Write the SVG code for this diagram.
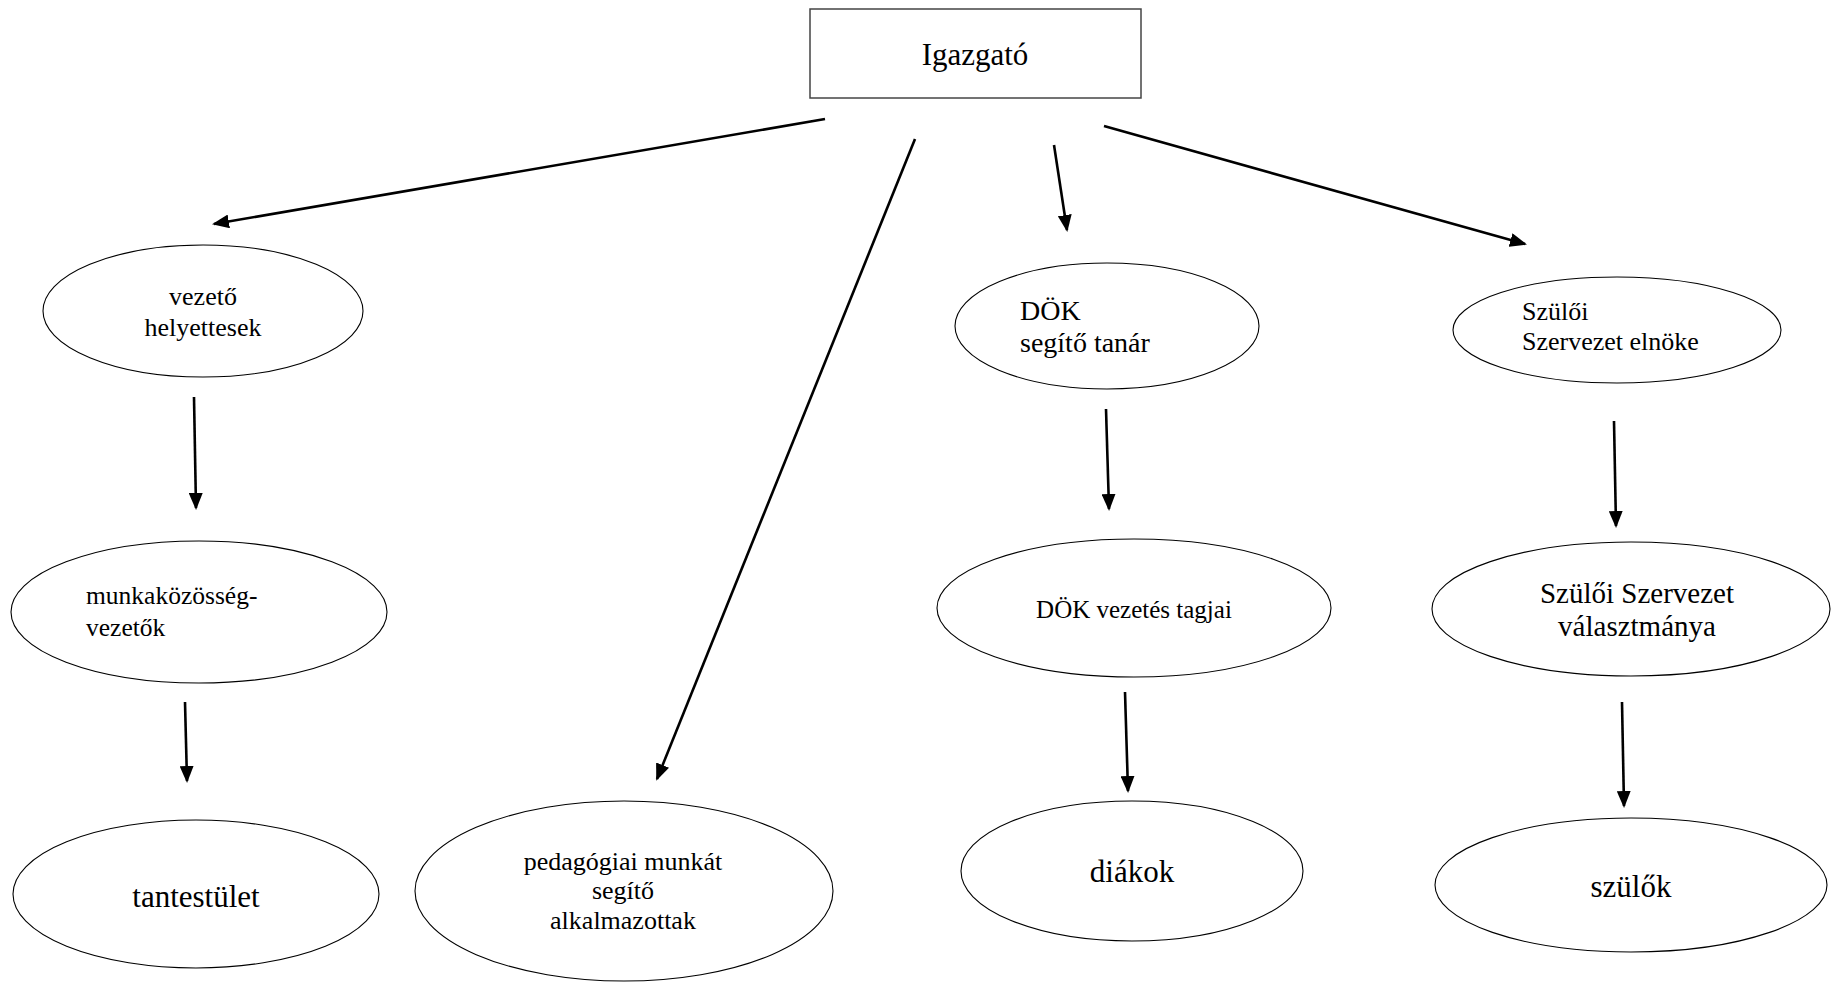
<svg xmlns="http://www.w3.org/2000/svg" width="1832" height="983" viewBox="0 0 1832 983">
<style>
  .bg{fill:#fff}
  .node{fill:#fff;stroke:#000;stroke-width:1.1}
  .box{fill:#fff;stroke:#444;stroke-width:1.5}
  .t{font-family:"Liberation Serif","Times New Roman",serif;fill:#000}
  .c{text-anchor:middle}
  .edge{stroke:#000;stroke-width:2.6;fill:none;marker-end:url(#ah)}
</style>
<defs>
  <marker id="ah" markerUnits="userSpaceOnUse" markerWidth="17" markerHeight="14" refX="15" refY="7" orient="auto">
    <path d="M0,0 L17,7 L0,14 z" fill="#000"/>
  </marker>
</defs>
<rect class="bg" x="0" y="0" width="1832" height="983"/>
<g id="connectors">
  <line class="edge" x1="825" y1="119" x2="214" y2="224"/>
  <line class="edge" x1="915" y1="139" x2="657" y2="779"/>
  <line class="edge" x1="1054" y1="145" x2="1067" y2="230"/>
  <line class="edge" x1="1104" y1="126" x2="1525" y2="244"/>
  <line class="edge" x1="194" y1="397" x2="196" y2="508"/>
  <line class="edge" x1="185" y1="702" x2="187" y2="781"/>
  <line class="edge" x1="1106" y1="409" x2="1109" y2="509"/>
  <line class="edge" x1="1125" y1="692" x2="1128" y2="791"/>
  <line class="edge" x1="1614" y1="421" x2="1616" y2="526"/>
  <line class="edge" x1="1622" y1="702" x2="1624" y2="806"/>
</g>
<g id="igazgato">
  <rect class="box" x="810" y="9" width="331" height="89"/>
  <text class="t c" x="975" y="65" font-size="31">Igazgató</text>
</g>
<g id="vezeto-helyettesek">
  <ellipse class="node" cx="203" cy="311" rx="160" ry="66"/>
  <text class="t c" x="203" y="305" font-size="26">vezető</text>
  <text class="t c" x="203" y="336" font-size="26">helyettesek</text>
</g>
<g id="munkakozosseg-vezetok">
  <ellipse class="node" cx="199" cy="612" rx="188" ry="71"/>
  <text class="t" x="86" y="604" font-size="25.5">munkaközösség-</text>
  <text class="t" x="86" y="636" font-size="25.5">vezetők</text>
</g>
<g id="tantestulet">
  <ellipse class="node" cx="196" cy="894" rx="183" ry="74"/>
  <text class="t c" x="196" y="907" font-size="31">tantestület</text>
</g>
<g id="pedagogiai">
  <ellipse class="node" cx="624" cy="891" rx="209" ry="90"/>
  <text class="t c" x="623" y="870" font-size="26">pedagógiai munkát</text>
  <text class="t c" x="623" y="899" font-size="26">segítő</text>
  <text class="t c" x="623" y="929" font-size="26">alkalmazottak</text>
</g>
<g id="dok-segito-tanar">
  <ellipse class="node" cx="1107" cy="326" rx="152" ry="63"/>
  <text class="t" x="1020" y="320" font-size="28">DÖK</text>
  <text class="t" x="1020" y="352" font-size="28">segítő tanár</text>
</g>
<g id="dok-vezetes-tagjai">
  <ellipse class="node" cx="1134" cy="608" rx="197" ry="69"/>
  <text class="t c" x="1134" y="618" font-size="25">DÖK vezetés tagjai</text>
</g>
<g id="diakok">
  <ellipse class="node" cx="1132" cy="871" rx="171" ry="70"/>
  <text class="t c" x="1132" y="882" font-size="31">diákok</text>
</g>
<g id="szuloi-szervezet-elnoke">
  <ellipse class="node" cx="1617" cy="330" rx="164" ry="53"/>
  <text class="t" x="1522" y="320" font-size="26">Szülői</text>
  <text class="t" x="1522" y="350" font-size="26">Szervezet elnöke</text>
</g>
<g id="szuloi-szervezet-valasztmanya">
  <ellipse class="node" cx="1631" cy="609" rx="199" ry="67"/>
  <text class="t c" x="1637" y="603" font-size="29">Szülői Szervezet</text>
  <text class="t c" x="1637" y="636" font-size="29">választmánya</text>
</g>
<g id="szulok">
  <ellipse class="node" cx="1631" cy="885" rx="196" ry="67"/>
  <text class="t c" x="1631" y="897" font-size="31">szülők</text>
</g>
</svg>
